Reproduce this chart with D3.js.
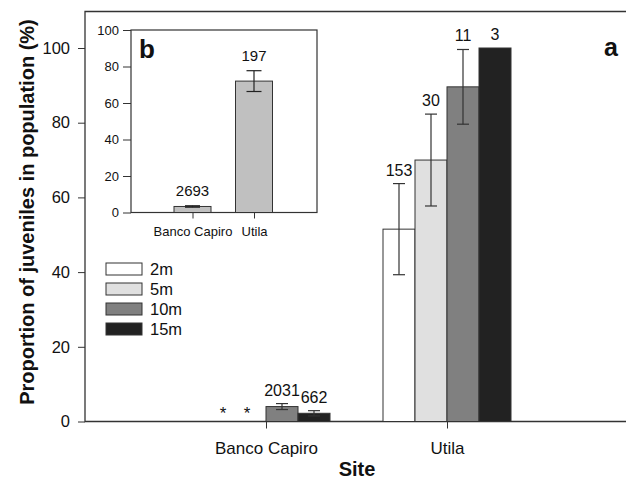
<!DOCTYPE html>
<html><head><meta charset="utf-8">
<script src="https://cdn.jsdelivr.net/npm/d3@7"></script>
<style>
html,body{margin:0;padding:0;background:#fff;}
text{font-family:Arial,"Liberation Sans",sans-serif;fill:#111;}
</style></head>
<body>
<svg id="c" width="626" height="479"></svg>
<script>
// ---- data ----
const sites = ["Banco Capiro", "Utila"];
const depths = ["2m", "5m", "10m", "15m"];
const depthFills = ["#ffffff", "#e0e0e0", "#808080", "#222222"];
const bancoMeans = [null, null, 4.0, 2.2];
const bancoErr = [null, null, 0.8, 0.7];
const bancoLabels = ["*", "*", "2031", "662"];
const utilaMeans = [51.5, 70.0, 89.6, 100];
const utilaErr = [12.2, 12.3, 10.0, 0];
const utilaLabels = ["153", "30", "11", "3"];
const yTicks = [0, 20, 40, 60, 80, 100];
const insetSites = ["Banco Capiro", "Utila"];
const insetMeans = [3.3, 72.0];
const insetErr = [0.4, 5.7];
const insetLabels = ["2693", "197"];
const insetTicks = [0, 20, 40, 60, 80, 100];

const svg = d3.select("#c");
const stroke = "#333";
const FF = "Arial, 'Liberation Sans', sans-serif";

// ---- main panel ----
const L = 85, R = 626, T = 11.5, B = 421.5;
const y = d3.scaleLinear().domain([0, 110]).range([B, B - 110 * 3.735]);
const x = d3.scalePoint().domain(sites).range([L, L + 3 * 181]).padding(1);
const barW = 32;

const main = svg.append("g");
// frame (left, top, bottom)
main.append("path").attr("d", `M${R},${T}H${L}V${B}H${R}`)
  .attr("fill", "none").attr("stroke", stroke).attr("stroke-width", 1.3);

// y axis
const yAxis = main.append("g").attr("transform", `translate(${L},0)`)
  .call(d3.axisLeft(y).tickValues(yTicks).tickSize(7).tickPadding(8));
yAxis.select(".domain").remove();
yAxis.selectAll("line").attr("stroke", stroke);
yAxis.selectAll("text").attr("font-size", 16.5).style("font-family", FF).attr("fill", "#111");

// x axis ticks
const xAxis = main.append("g").attr("transform", `translate(0,${B})`)
  .call(d3.axisBottom(x).tickSize(7).tickPadding(13));
xAxis.select(".domain").remove();
xAxis.selectAll("line").attr("stroke", stroke);
xAxis.selectAll("text").attr("font-size", 17).style("font-family", FF).attr("fill", "#111");

// bars
const seriesData = [
  { site: "Banco Capiro", means: bancoMeans, err: bancoErr, labels: bancoLabels },
  { site: "Utila", means: utilaMeans, err: utilaErr, labels: utilaLabels }
];
const offset = d => (depths.indexOf(d) - 2) * barW;
seriesData.forEach(s => {
  const cx = x(s.site);
  depths.forEach((d, i) => {
    const left = cx + offset(d);
    const mid = left + barW / 2;
    const m = s.means[i];
    if (m == null) {
      main.append("text").attr("x", mid + (i === 0 ? 5 : -3)).attr("y", B - 3).attr("text-anchor", "middle")
        .attr("font-size", 17).text(s.labels[i]);
      return;
    }
    main.append("rect").attr("x", left).attr("y", y(m)).attr("width", barW).attr("height", B - y(m))
      .attr("fill", depthFills[i]).attr("stroke", stroke).attr("stroke-width", 1);
    const e = s.err[i];
    if (e > 0) {
      const g = main.append("g").attr("stroke", stroke).attr("stroke-width", 1.2);
      g.append("line").attr("x1", mid).attr("x2", mid).attr("y1", y(m + e)).attr("y2", y(m - e));
      g.append("line").attr("x1", mid - 6).attr("x2", mid + 6).attr("y1", y(m + e)).attr("y2", y(m + e));
      g.append("line").attr("x1", mid - 6).attr("x2", mid + 6).attr("y1", y(m - e)).attr("y2", y(m - e));
    }
    main.append("text").attr("x", mid).attr("y", y(m + e) - 8).attr("text-anchor", "middle")
      .attr("font-size", 16).text(s.labels[i]);
  });
});

// axis titles
main.append("text").attr("transform", "translate(34,212) rotate(-90)").attr("text-anchor", "middle")
  .attr("font-size", 20).attr("font-weight", "bold").text("Proportion of juveniles in population (%)");
main.append("text").attr("x", 357).attr("y", 476).attr("text-anchor", "middle")
  .attr("font-size", 20).attr("font-weight", "bold").text("Site");
main.append("text").attr("x", 611).attr("y", 56).attr("text-anchor", "middle")
  .attr("font-size", 25).attr("font-weight", "bold").text("a");

// legend
const leg = main.append("g").attr("transform", "translate(106,263)");
depths.forEach((d, i) => {
  const g = leg.append("g").attr("transform", `translate(0,${i * 20})`);
  g.append("rect").attr("width", 36).attr("height", 12).attr("fill", depthFills[i])
    .attr("stroke", stroke).attr("stroke-width", 1);
  g.append("text").attr("x", 44).attr("y", 6).attr("dy", "0.36em").attr("font-size", 16.5).text(d);
});

// ---- inset ----
const iL = 131, iR = 317, iT = 30, iB = 212.5;
const iy = d3.scaleLinear().domain([0, 100]).range([iB, iT]);
const ix = d3.scalePoint().domain(insetSites).range([iL, iL + 3 * 61.5]).padding(1);
const ins = svg.append("g");
ins.append("rect").attr("x", iL).attr("y", iT).attr("width", iR - iL).attr("height", iB - iT)
  .attr("fill", "#fff").attr("stroke", stroke).attr("stroke-width", 1.2);
const iyAxis = ins.append("g").attr("transform", `translate(${iL},0)`)
  .call(d3.axisLeft(iy).tickValues(insetTicks).tickSize(8).tickPadding(4));
iyAxis.select(".domain").remove();
iyAxis.selectAll("line").attr("stroke", stroke);
iyAxis.selectAll("text").attr("font-size", 13).style("font-family", FF).attr("fill", "#111");
const ixAxis = ins.append("g").attr("transform", `translate(0,${iB})`)
  .call(d3.axisBottom(ix).tickSize(6).tickPadding(8));
ixAxis.select(".domain").remove();
ixAxis.selectAll("line").attr("stroke", stroke);
ixAxis.selectAll("text").attr("font-size", 13).style("font-family", FF).attr("fill", "#111");

const iBarW = 37;
insetSites.forEach((s, i) => {
  const mid = ix(s);
  const m = insetMeans[i], e = insetErr[i];
  ins.append("rect").attr("x", mid - iBarW / 2).attr("y", iy(m)).attr("width", iBarW).attr("height", iB - iy(m))
    .attr("fill", "#c0c0c0").attr("stroke", stroke).attr("stroke-width", 1);
  const g = ins.append("g").attr("stroke", "#222").attr("stroke-width", 1.2);
  g.append("line").attr("x1", mid).attr("x2", mid).attr("y1", iy(m + e)).attr("y2", iy(m - e));
  g.append("line").attr("x1", mid - 7.5).attr("x2", mid + 7.5).attr("y1", iy(m + e)).attr("y2", iy(m + e));
  g.append("line").attr("x1", mid - 7.5).attr("x2", mid + 7.5).attr("y1", iy(m - e)).attr("y2", iy(m - e));
  ins.append("text").attr("x", mid).attr("y", iy(m + e) - 10).attr("text-anchor", "middle")
    .attr("font-size", 15).text(insetLabels[i]);
});
ins.append("text").attr("x", 139).attr("y", 57.5).attr("font-size", 26).attr("font-weight", "bold").text("b");
</script>
</body></html>
